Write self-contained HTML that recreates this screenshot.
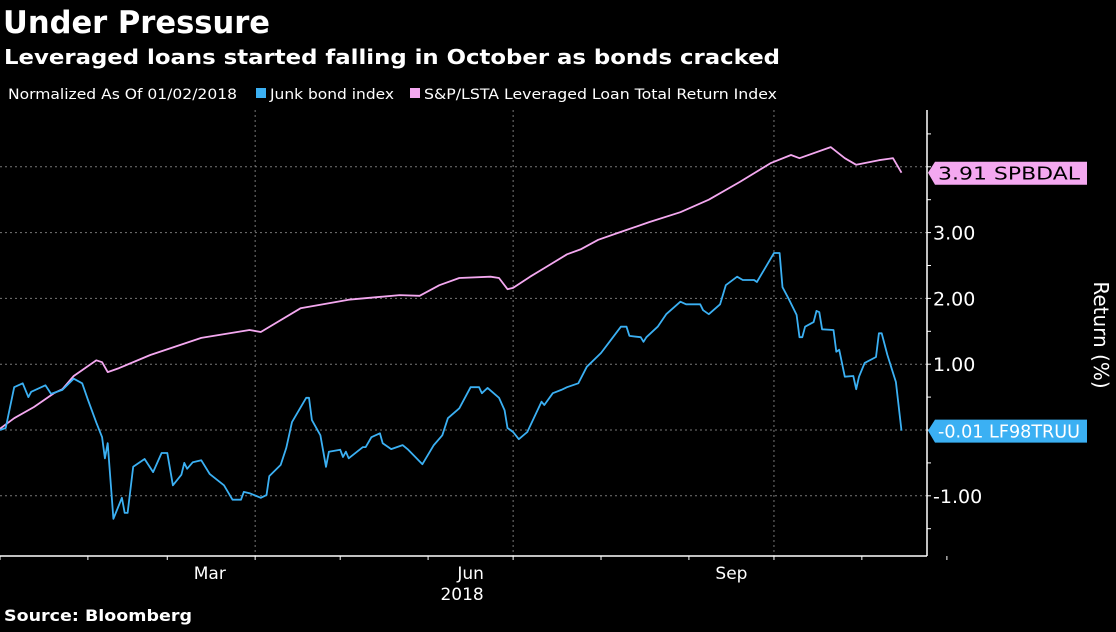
<!DOCTYPE html>
<html><head><meta charset="utf-8"><style>
body{margin:0;background:#000;width:1116px;height:627px;overflow:hidden;font-family:"Liberation Sans",sans-serif;color:#fff}
</style></head><body>
<svg width="1116" height="627" xmlns="http://www.w3.org/2000/svg">
<text x="3" y="33" font-size="31" font-weight="bold" fill="#fff" font-family="DejaVu Sans" textLength="267" lengthAdjust="spacingAndGlyphs">Under Pressure</text>
<text x="4" y="64" font-size="20" font-weight="bold" fill="#fff" font-family="DejaVu Sans" textLength="776" lengthAdjust="spacingAndGlyphs">Leveraged loans started falling in October as bonds cracked</text>
<g font-size="14" fill="#fff" font-family="DejaVu Sans">
<text x="8" y="99" textLength="229" lengthAdjust="spacingAndGlyphs">Normalized As Of 01/02/2018</text>
<rect x="256" y="88" width="10" height="10" fill="#3bb0f3"/>
<text x="270" y="99" textLength="124" lengthAdjust="spacingAndGlyphs">Junk bond index</text>
<rect x="410" y="88" width="10" height="10" fill="#f4a8f0"/>
<text x="424" y="99" textLength="353" lengthAdjust="spacingAndGlyphs">S&amp;P/LSTA Leveraged Loan Total Return Index</text>
</g>
<g id="grid"></g>
<g id="axes"></g>
<g id="series"></g>
<g id="callouts"></g>
<text transform="translate(1094,335) rotate(90)" text-anchor="middle" font-size="20" fill="#fff" font-family="DejaVu Sans">Return (%)</text>
<text x="4" y="621" font-size="16" font-weight="bold" fill="#fff" font-family="DejaVu Sans" textLength="188" lengthAdjust="spacingAndGlyphs">Source: Bloomberg</text>
</svg>
<script>
const junkDays=[0,2,5,8,10,11,16,18,22,26,29,31,34,36,37,38,40,43,44,45,47,51,54,57,59,61,64,65,66,68,71,74,79,82,85,86,88,92,94,95,99,101,103,108,109,110,113,115,116,120,121,122,123,128,129,131,134,135,138,142,144,149,153,156,158,162,166,169,170,172,176,178,179,181,183,186,191,192,195,198,200,204,207,212,215,219,221,222,226,227,228,232,235,240,242,247,248,250,254,256,260,262,266,267,273,275,276,278,281,282,283,284,287,288,289,290,294,295,296,298,301,302,303,305,309,310,311,313,316,318];
const junkValues=[0,0.03,0.65,0.71,0.5,0.58,0.68,0.55,0.61,0.78,0.71,0.46,0.11,-0.11,-0.43,-0.2,-1.35,-1.03,-1.26,-1.26,-0.56,-0.44,-0.64,-0.35,-0.35,-0.84,-0.68,-0.5,-0.59,-0.49,-0.46,-0.67,-0.84,-1.06,-1.06,-0.94,-0.96,-1.03,-0.99,-0.7,-0.53,-0.27,0.12,0.49,0.49,0.15,-0.08,-0.56,-0.33,-0.3,-0.41,-0.33,-0.43,-0.26,-0.26,-0.11,-0.05,-0.2,-0.29,-0.23,-0.3,-0.52,-0.23,-0.08,0.18,0.33,0.65,0.65,0.56,0.64,0.49,0.3,0.03,-0.03,-0.14,-0.03,0.43,0.38,0.56,0.61,0.65,0.71,0.96,1.17,1.34,1.57,1.57,1.43,1.41,1.34,1.41,1.57,1.76,1.95,1.91,1.91,1.82,1.76,1.91,2.2,2.33,2.28,2.28,2.25,2.69,2.69,2.17,2.01,1.75,1.41,1.41,1.57,1.64,1.81,1.79,1.53,1.52,1.19,1.22,0.81,0.82,0.62,0.81,1.02,1.11,1.47,1.47,1.14,0.73,-0.01];
const loanDays=[0,5,12,19,22,26,29,34,36,38,42,53,71,88,92,106,123,141,148,155,162,173,176,179,181,187,192,200,205,211,219,229,240,250,261,272,279,282,293,298,302,310,315,318];
const loanValues=[0.02,0.18,0.35,0.56,0.62,0.82,0.91,1.06,1.03,0.88,0.94,1.14,1.4,1.52,1.49,1.85,1.98,2.05,2.04,2.2,2.31,2.33,2.31,2.14,2.16,2.33,2.46,2.67,2.75,2.89,3.01,3.16,3.31,3.5,3.77,4.06,4.18,4.13,4.3,4.13,4.03,4.1,4.13,3.91];
const yTicks=[3,2,1,0,-1];
const yTickLabels=["3.00","2.00","1.00","0.00","-1.00"];
const monthStarts=[0,31,59,90,120,151,181,212,243,273,304,334];
const quarterDays=[90,181,273];
const monthLabels=["Mar","Jun","Sep"];
const monthLabelDays=[74,166,258];
const lastJunk="-0.01", lastLoan="3.91";

const NS="http://www.w3.org/2000/svg";
const X=d=>d*2.835, Y=v=>430-v*65.8;
const AX=927, BOT=556, TOP=110;
function mk(tag,attrs,parent){const e=document.createElementNS(NS,tag);for(const k in attrs)e.setAttribute(k,attrs[k]);parent.appendChild(e);return e;}
const grid=document.getElementById('grid'),axes=document.getElementById('axes'),ser=document.getElementById('series'),co=document.getElementById('callouts');
[4,3,2,1,0,-1].forEach(v=>{const l=mk('line',{x1:0,x2:AX,y1:Y(v),y2:Y(v),stroke:'#777','stroke-dasharray':'2,3','stroke-width':1},grid);

});
quarterDays.forEach(d=>{const l=mk('line',{x1:X(d),x2:X(d),y1:TOP,y2:BOT,stroke:'#777','stroke-dasharray':'2,3','stroke-width':1},grid);

});
const ya=mk('line',{x1:AX,x2:AX,y1:TOP,y2:BOT,stroke:'#fff','stroke-width':1.5},axes);


const xa=mk('line',{x1:0,x2:AX,y1:BOT,y2:BOT,stroke:'#fff','stroke-width':1.5},axes);


for(let v=-1.5;v<=4.5;v+=0.5){const t=mk('line',{x1:AX,x2:AX+4,y1:Y(v),y2:Y(v),stroke:'#fff'},axes);

}
yTicks.forEach((v,i)=>{if(v===0)return;const t=mk('text',{x:AX+6,y:Y(v)+7,'font-size':19,fill:'#fff','font-family':'DejaVu Sans'},axes);t.textContent=yTickLabels[i];

});
monthStarts.forEach(d=>{const t=mk('line',{x1:X(d),x2:X(d),y1:BOT,y2:BOT+4,stroke:'#fff'},axes);

});
monthLabels.forEach((m,i)=>{const t=mk('text',{x:X(monthLabelDays[i]),y:579,'font-size':17,fill:'#fff','text-anchor':'middle','font-family':'DejaVu Sans'},axes);t.textContent=m;

});
const yr=mk('text',{x:X(163),y:600,'font-size':17,fill:'#fff','text-anchor':'middle','font-family':'DejaVu Sans'},axes);yr.textContent='2018';


function line(days,vals,color,name){const p=mk('polyline',{points:days.map((d,i)=>X(d).toFixed(1)+','+Y(vals[i]).toFixed(1)).join(' '),fill:'none',stroke:color,'stroke-width':1.8,'stroke-linejoin':'round'},ser);

}
line(loanDays,loanValues,'#f4a8f0','loan-index-line');
line(junkDays,junkValues,'#3bb0f3','junk-bond-line');
function callout(v,label,color,w,name,tc){const y=Y(v);const g=mk('g',{},co);


mk('polygon',{points:`${AX+1},${y} ${AX+8},${y-11} ${AX+8+w},${y-11} ${AX+8+w},${y+12} ${AX+8},${y+12}`,fill:color},g);
const t=mk('text',{x:AX+11,y:y+7,'font-size':18,fill:tc,'font-family':'DejaVu Sans',textLength:w-10,lengthAdjust:'spacingAndGlyphs'},g);t.textContent=label;}
callout(+lastLoan,lastLoan+'  SPBDAL','#f4a8f0',152,'loan-last-value-callout','#000');
callout(+lastJunk,lastJunk+' LF98TRUU','#3bb0f3',152,'junk-last-value-callout','#fff');
</script>
</body></html>
